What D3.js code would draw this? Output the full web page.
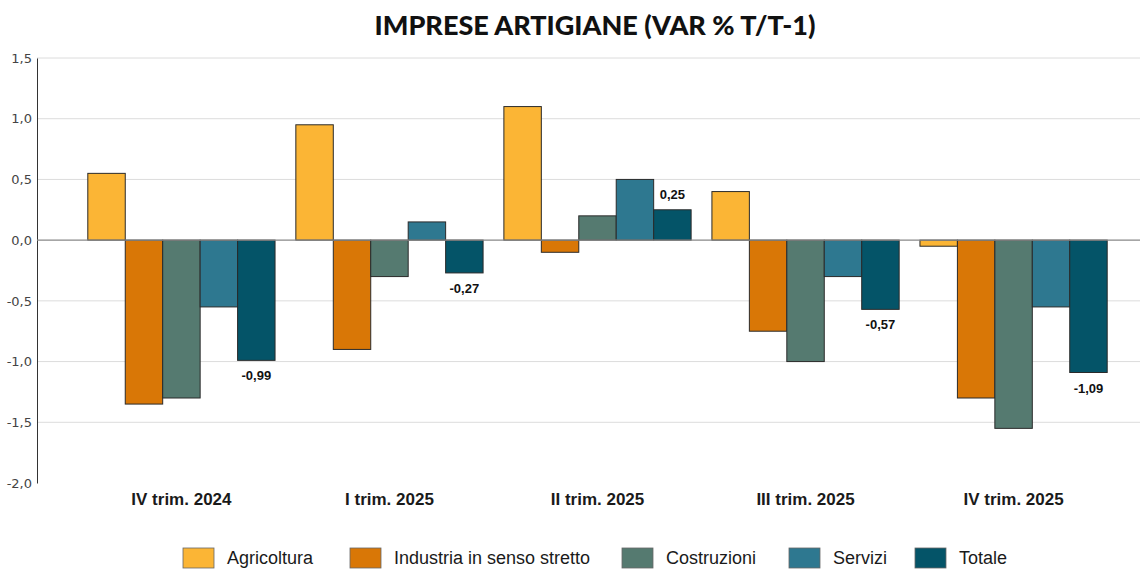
<!DOCTYPE html>
<html>
<head>
<meta charset="utf-8">
<script src="https://cdn.jsdelivr.net/npm/d3@7"></script>
<style>
    body { margin: 0; background: #fff; }
    svg { display: block; }
</style>
</head>
<body>
<script>
var categories = ["IV trim. 2024", "I trim. 2025", "II trim. 2025", "III trim. 2025", "IV trim. 2025"];
var seriesNames = ["Agricoltura", "Industria in senso stretto", "Costruzioni", "Servizi", "Totale"];
var seriesColors = ["#fbb535", "#d97706", "#557a70", "#2e7890", "#045468"];

var agricoltura = [0.55, 0.95, 1.10, 0.40, -0.05];
var industria = [-1.35, -0.90, -0.10, -0.75, -1.30];
var costruzioni = [-1.30, -0.30, 0.20, -1.00, -1.55];
var servizi = [-0.55, 0.15, 0.50, -0.30, -0.55];
var totale = [-0.99, -0.27, 0.25, -0.57, -1.09];

var yTicks = [-2.0, -1.5, -1.0, -0.5, 0.0, 0.5, 1.0, 1.5];

(function() {

    var seriesValues = [agricoltura, industria, costruzioni, servizi, totale];

    var width = 1142,
        height = 570,
        plotLeft = 37,
        plotRight = 1140,
        plotTop = 58,
        plotBottom = 483;

    var itLocale = d3.formatLocale({decimal: ",", thousands: ".", grouping: [3], currency: ["", " €"], minus: "-"});
    var tickFmt = itLocale.format(".1f"),
        valueFmt = itLocale.format(".2f");

    var svg = d3.select("body").append("svg")
                .attr("width", width)
                .attr("height", height);

    var y = d3.scaleLinear()
              .domain([-2, 1.5])
              .range([plotBottom, plotTop]);

    var x0 = d3.scaleBand()
               .domain(categories)
               .range([67, 1128])
               .paddingInner(0.1)
               .paddingOuter(0.1);

    var x1 = d3.scaleBand()
               .domain(seriesNames)
               .range([0, x0.bandwidth()]);

    // title
    svg.append("text")
       .attr("x", 595)
       .attr("y", 35)
       .attr("text-anchor", "middle")
       .style("font-family", "Lato, 'DejaVu Sans', sans-serif")
       .style("font-weight", "900")
       .style("font-size", "27px")
       .style("fill", "#111")
       .text("IMPRESE ARTIGIANE (VAR % T/T-1)");

    // gridlines
    svg.append("g")
       .selectAll("line")
       .data(yTicks.filter(function(d) {return d !== 0 && d !== -2; }))
       .enter().append("line")
       .attr("x1", plotLeft)
       .attr("x2", plotRight)
       .attr("y1", function(d) {return y(d); })
       .attr("y2", function(d) {return y(d); })
       .style("stroke", "#dcdcdc")
       .style("stroke-width", 1);

    // y axis
    var yAxis = d3.axisLeft(y)
                  .tickValues(yTicks)
                  .tickFormat(tickFmt)
                  .tickSize(0)
                  .tickPadding(5);

    var yAxisG = svg.append("g")
                    .attr("transform", "translate(" + plotLeft + ",0)")
                    .call(yAxis);

    yAxisG.select(".domain")
          .style("stroke", "#333")
          .style("stroke-width", 1);

    yAxisG.selectAll("text")
          .style("font-family", "'DejaVu Sans', sans-serif")
          .style("font-size", "13px")
          .style("fill", "#444");

    // bars
    var groups = svg.append("g")
                    .selectAll("g")
                    .data(categories)
                    .enter().append("g")
                    .attr("transform", function(d) {return "translate(" + x0(d) + ",0)"; });

    groups.selectAll("rect")
          .data(function(d, i) {
              return seriesNames.map(function(s, j) {
                  return {name: s, value: seriesValues[j][i], color: seriesColors[j]};
              });
          })
          .enter().append("rect")
          .attr("x", function(d) {return x1(d.name); })
          .attr("width", x1.bandwidth())
          .attr("y", function(d) {return y(Math.max(0, d.value)); })
          .attr("height", function(d) {return Math.abs(y(d.value) - y(0)); })
          .style("fill", function(d) {return d.color; })
          .style("stroke", "#2a2a2a")
          .style("stroke-width", 1);

    // zero line
    svg.append("line")
       .attr("x1", plotLeft)
       .attr("x2", plotRight)
       .attr("y1", y(0))
       .attr("y2", y(0))
       .style("stroke", "#888")
       .style("stroke-width", 1.2);

    // value labels on Totale
    groups.append("text")
          .attr("x", x1("Totale") + x1.bandwidth() / 2)
          .attr("y", function(d, i) {
              var v = totale[i];
              return v < 0 ? y(v) + 20 : y(v) - 11;
          })
          .attr("text-anchor", "middle")
          .style("font-family", "'Liberation Sans', Arial, sans-serif")
          .style("font-weight", "bold")
          .style("font-size", "13px")
          .style("fill", "#111")
          .text(function(d, i) {return valueFmt(totale[i]); });

    // category labels
    svg.append("g")
       .selectAll("text")
       .data(categories)
       .enter().append("text")
       .attr("x", function(d) {return x0(d) + x0.bandwidth() / 2; })
       .attr("y", 505)
       .attr("text-anchor", "middle")
       .style("font-family", "'Liberation Sans', Arial, sans-serif")
       .style("font-weight", "bold")
       .style("font-size", "17px")
       .style("fill", "#1a1a1a")
       .text(function(d) {return d; });

    // legend
    var legendX = [183, 350, 622, 789, 915];

    var legend = svg.append("g")
                    .selectAll("g")
                    .data(seriesNames)
                    .enter().append("g")
                    .attr("transform", function(d, i) {return "translate(" + legendX[i] + ",548)"; });

    legend.append("rect")
          .attr("width", 31)
          .attr("height", 20)
          .style("fill", function(d, i) {return seriesColors[i]; })
          .style("stroke", "#666")
          .style("stroke-width", 0.8);

    legend.append("text")
          .attr("x", 44)
          .attr("y", 16)
          .style("font-family", "'Liberation Sans', Arial, sans-serif")
          .style("font-size", "18px")
          .style("fill", "#1a1a1a")
          .text(function(d) {return d; });

})();
</script>
</body>
</html>
